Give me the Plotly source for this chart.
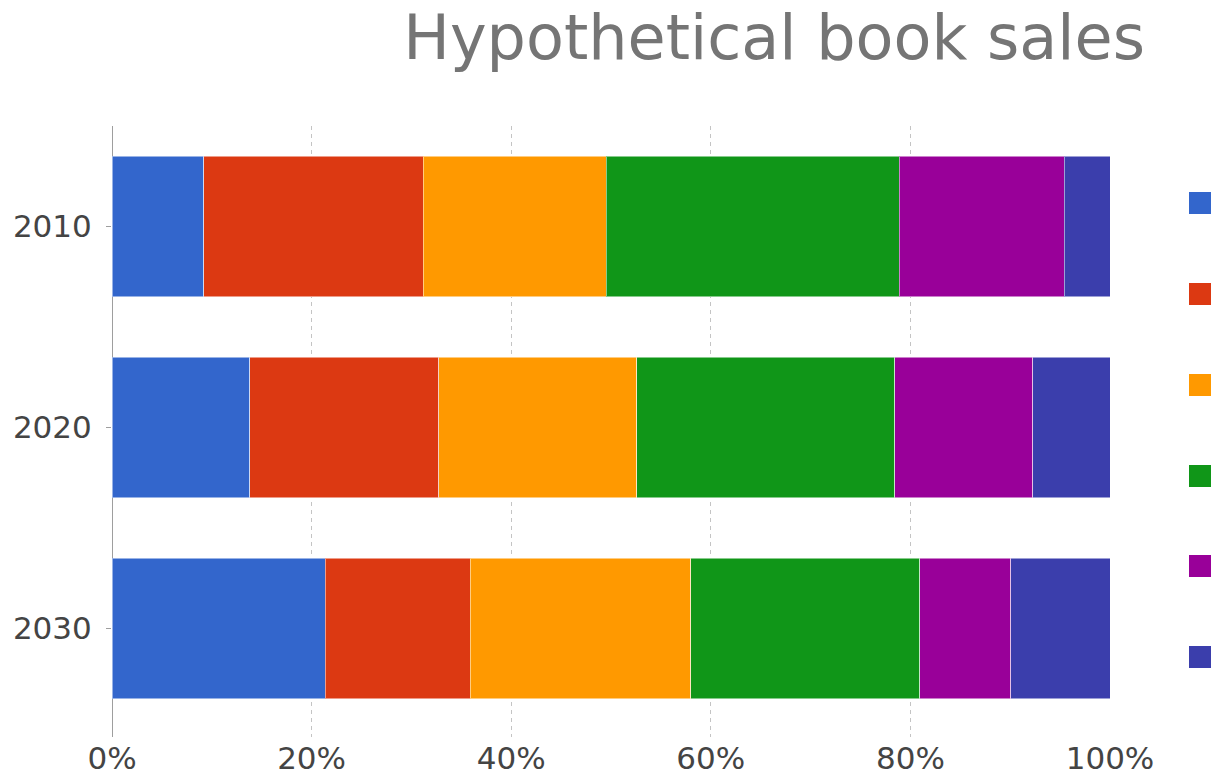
import plotly.graph_objects as go

years = ["2010", "2020", "2030"]
series_names = ["Fantasy & Sci Fi", "Romance", "Mystery/Crime", "General", "Western", "Literature"]
values = {
    "Fantasy & Sci Fi": [10, 16, 28],
    "Romance": [24, 22, 19],
    "Mystery/Crime": [20, 23, 29],
    "General": [32, 30, 30],
    "Western": [18, 16, 12],
    "Literature": [5, 9, 13],
}
colors = ["#3366cc", "#dc3912", "#ff9900", "#109618", "#990099", "#3b3eac"]
x_ticks = [0, 20, 40, 60, 80, 100]

W, H = 1219, 776
L, R, T, B = 112, 109, 126, 39

fig = go.Figure()
for name, col in zip(series_names, colors):
    fig.add_trace(go.Bar(
        y=years, x=values[name], name=name, orientation="h",
        marker=dict(color=col, line=dict(color="rgba(255,255,255,0.5)", width=1)),
        showlegend=False,
    ))

# legend squares (labels truncated in the original chart)
plot_h = H - T - B
sq = 22
leg_x0 = 1189
leg_centers = [203, 294, 385, 476, 566, 657]
for col, cy in zip(colors, leg_centers):
    fig.add_shape(
        type="rect", xref="paper", yref="paper",
        x0=(leg_x0 - L) / (W - L - R), x1=(leg_x0 + sq - L) / (W - L - R),
        y0=(H - B - (cy + sq / 2)) / plot_h, y1=(H - B - (cy - sq / 2)) / plot_h,
        fillcolor=col, line=dict(width=0),
    )

fig.update_layout(
    width=W, height=H,
    margin=dict(l=L, r=R, t=T, b=B, pad=0, autoexpand=False),
    paper_bgcolor="white", plot_bgcolor="white",
    barmode="stack", barnorm="percent", bargap=0.3,
    font=dict(family="DejaVu Sans", size=31, color="#444444"),
    title=dict(
        text="Hypothetical book sales",
        font=dict(family="DejaVu Sans", size=62, color="#757575"),
        xref="container", x=1145 / W, xanchor="right",
        yref="container", y=1 - 37 / H, yanchor="middle",
    ),
    xaxis=dict(
        range=[0, 100], tickvals=x_ticks, ticktext=[f"{v}%" for v in x_ticks],
        showgrid=True, gridcolor="#c4c4c4", griddash="4px,4px", gridwidth=1,
        zeroline=True, zerolinecolor="#9e9e9e", zerolinewidth=1,
        showline=False, ticks="", fixedrange=True, automargin=False,
        tickfont=dict(size=31, color="#444444"),
    ),
    yaxis=dict(
        type="category", range=[2.54, -0.5], automargin=False,
        showgrid=False, zeroline=False, showline=False,
        ticks="outside", ticklen=5, tickcolor="#9e9e9e",
        tickfont=dict(size=31, color="#444444"),
        ticklabelstandoff=8,
    ),
)

fig.write_html("out.html")
